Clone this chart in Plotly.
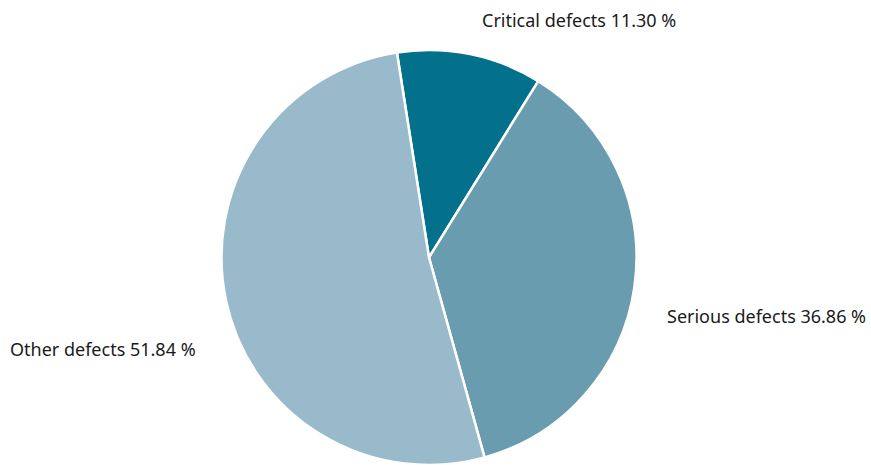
import plotly.graph_objects as go

# Share of defects by category (percent)
categories = ["Critical defects", "Serious defects", "Other defects"]
shares = [11.30, 36.86, 51.84]
colors = ["#03708C", "#689CAE", "#98BACB"]

W, H = 871, 465

fig = go.Figure(
    go.Pie(
        labels=categories,
        values=shares,
        sort=False,
        direction="clockwise",
        rotation=-8.9,
        marker=dict(colors=colors, line=dict(color="white", width=2.5)),
        textinfo="none",
        hoverinfo="label+percent",
        showlegend=False,
        domain=dict(x=[221 / W, 637 / W], y=[0, 415 / H]),
    )
)

# Outside labels: category name followed by its share
label_pos = {
    "Critical defects": (480, 20, "left"),
    "Serious defects": (868, 316, "right"),
    "Other defects": (8, 349, "left"),
}
for name, val in zip(categories, shares):
    px, py, anchor = label_pos[name]
    fig.add_annotation(
        x=px / W, y=1 - py / H, xref="paper", yref="paper",
        xanchor=anchor, yanchor="middle", showarrow=False,
        text=f"{name} {val:.2f} %",
        font=dict(family="Noto Sans", size=18, color="#1a1a1a"),
    )

fig.update_layout(
    width=W, height=H,
    margin=dict(l=0, r=0, t=0, b=0),
    paper_bgcolor="white", plot_bgcolor="white",
)

fig.write_html("out.html")
